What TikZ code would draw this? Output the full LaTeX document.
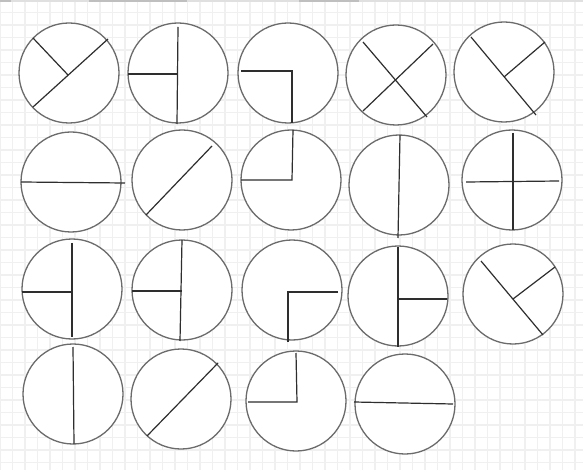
\documentclass[tikz,border=0pt]{standalone}
\begin{document}
\begin{tikzpicture}[x=1pt,y=-1pt,
  gridline/.style={draw=black!6,line width=1.2pt},
  rim/.style={draw=black!58,line width=1.3pt,fill=white},
  cut/.style={draw=black!82,line width=1.2pt},
  topline/.style={draw=black!12,line width=1.2pt},
  topseg/.style={draw=black!25,line width=1.5pt}]
\useasboundingbox (0,0) rectangle (583,470);
\fill[white] (0,0) rectangle (583,470);
\foreach \i in {0,...,46} {\draw[gridline] (\i*12.5,0) -- (\i*12.5,470);}
\foreach \j in {0,...,37} {\draw[gridline] (0,\j*12.5) -- (583,\j*12.5);}
\draw[topline] (0,1) -- (583,1);
\draw[topseg] (0,0.8) -- (11,0.8);
\draw[topseg] (89,0.8) -- (187,0.8);
\draw[topseg] (299,0.8) -- (359,0.8);
% row 1
\draw[rim] (69,73) circle[radius=50pt];
\draw[cut] (108,39) -- (33,107);
\draw[cut] (33,38) -- (68,75);
\draw[rim] (178,73) circle[radius=50pt];
\draw[cut] (178,27) -- (177,124);
\draw[cut] (128,74) -- (178,74);
\draw[rim] (288,73) circle[radius=50pt];
\draw[cut] (241,71) -- (292,71) -- (292,123);
\draw[rim] (396,75) circle[radius=50pt];
\draw[cut] (363,42) -- (427,117);
\draw[cut] (433,44) -- (363,111);
\draw[rim] (504,72) circle[radius=50pt];
\draw[cut] (471,37) -- (536,115);
\draw[cut] (545,42) -- (504,77);
% row 2
\draw[rim] (71,182) circle[radius=50pt];
\draw[cut] (21,182) -- (125,183);
\draw[rim] (182,180) circle[radius=50pt];
\draw[cut] (212,146) -- (146,215);
\draw[rim] (291,180) circle[radius=50pt];
\draw[cut] (241,180) -- (292,180) -- (293,130);
\draw[rim] (399,185) circle[radius=50pt];
\draw[cut] (400,135) -- (398,238);
\draw[rim] (512,180) circle[radius=50pt];
\draw[cut] (466,182) -- (559,181);
\draw[cut] (513,133) -- (513,230);
% row 3
\draw[rim] (72,289) circle[radius=50pt];
\draw[cut] (72,243) -- (72,337);
\draw[cut] (22,292) -- (72,292);
\draw[rim] (182,290) circle[radius=50pt];
\draw[cut] (182,240) -- (180,341);
\draw[cut] (132,291) -- (182,291);
\draw[rim] (292,290) circle[radius=50pt];
\draw[cut] (338,292) -- (288,292) -- (288,342);
\draw[rim] (398,296) circle[radius=50pt];
\draw[cut] (398,247) -- (398,347);
\draw[cut] (398,299) -- (447,299);
\draw[rim] (513,294) circle[radius=50pt];
\draw[cut] (481,261) -- (543,335);
\draw[cut] (555,267) -- (513,299);
% row 4
\draw[rim] (73,394) circle[radius=50pt];
\draw[cut] (73,347) -- (74,444);
\draw[rim] (181,399) circle[radius=50pt];
\draw[cut] (218,363) -- (147,436);
\draw[rim] (296,401) circle[radius=50pt];
\draw[cut] (248,402) -- (297,402) -- (296,353);
\draw[rim] (405,404) circle[radius=50pt];
\draw[cut] (354,402) -- (453,404);
\end{tikzpicture}
\end{document}
